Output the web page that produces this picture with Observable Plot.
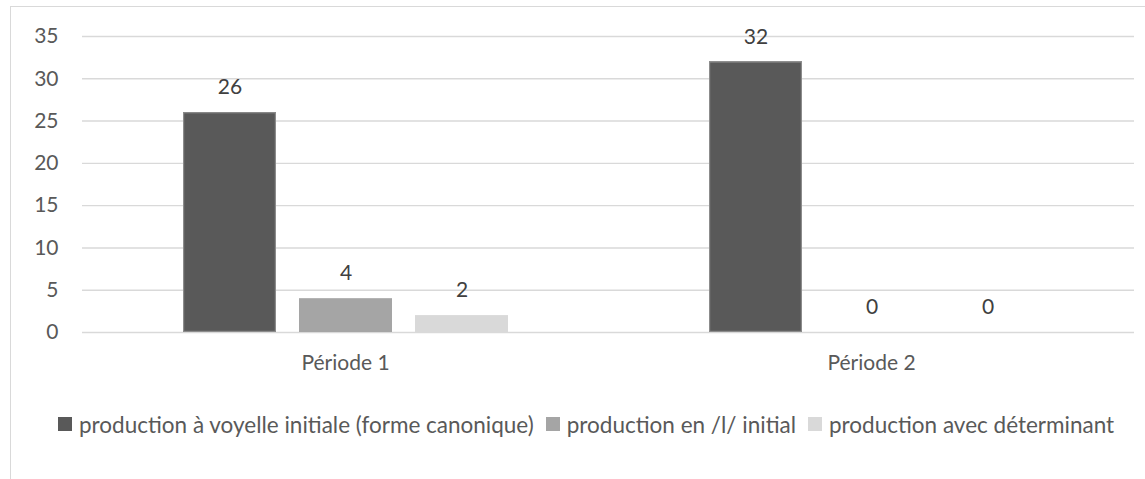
<!DOCTYPE html>
<html>
<head>
<meta charset="utf-8">
<script src="https://cdn.jsdelivr.net/npm/d3@7"></script>
<script src="https://cdn.jsdelivr.net/npm/@observablehq/plot@0.6"></script>
<style>
  html, body { margin: 0; padding: 0; background: #ffffff; overflow: hidden; }
  body { width: 1145px; height: 479px; position: relative; font-family: Lato, "Open Sans", sans-serif; }
  #frame { position: absolute; left: 10px; top: 6px; width: 1150px; height: 500px; border: 1.5px solid #d9d9d9; box-sizing: border-box; }
  #chart { position: absolute; left: 0; top: 0; }
  #legend { position: absolute; left: 58px; top: 410px; height: 28px; display: flex; align-items: center; font-size: 22.5px; color: #595959; white-space: nowrap; }
  .item { display: flex; align-items: center; margin-right: 12px; }
  .sw { width: 14px; height: 14px; margin-right: 7px; display: inline-block; }
</style>
</head>
<body>
<div id="frame"></div>
<div id="chart"></div>
<div id="legend"></div>
<script>
const periods = ["Période 1", "Période 2"];
const series = [
  "production à voyelle initiale (forme canonique)",
  "production en /l/ initial",
  "production avec déterminant"
];
const valuesPeriode1 = [26, 4, 2];
const valuesPeriode2 = [32, 0, 0];
const yTicks = [0, 5, 10, 15, 20, 25, 30, 35];
const colors = ["#595959", "#a5a5a5", "#d9d9d9"];

const valuesByPeriod = [valuesPeriode1, valuesPeriode2];
const data = periods.flatMap((p, i) =>
  series.map((s, j) => ({period: p, series: s, value: valuesByPeriod[i][j]}))
);

const chart = Plot.plot({
  width: 1145,
  height: 380,
  marginLeft: 82,
  marginRight: 11,
  marginTop: 36,
  marginBottom: 48,
  style: {fontFamily: "Lato, 'Open Sans', sans-serif", fontSize: "21px", color: "#595959", background: "transparent"},
  fx: {domain: periods, padding: 0, label: null, axis: "bottom", tickSize: 0, tickPadding: 23},
  x: {domain: series, paddingInner: 0.2, paddingOuter: 0.85, axis: null},
  y: {domain: [0, 35], ticks: yTicks, tickSize: 0, tickPadding: 24, label: null},
  color: {domain: series, range: colors},
  marks: [
    Plot.ruleY(yTicks, {stroke: "#d9d9d9", strokeWidth: 1.4}),
    Plot.barY(data, {fx: "period", x: "series", y: "value", fill: "series"}),
    Plot.barY(data.filter(d => d.series === series[0]), {fx: "period", x: "series", y: "value", fill: "none", stroke: "#8c8c8c", strokeWidth: 1.2, inset: 0.6}),
    Plot.text(data, {fx: "period", x: "series", y: "value", text: d => String(d.value), dy: -25, fill: "#404040", fontSize: 21})
  ]
});
document.getElementById("chart").appendChild(chart);

const legend = document.getElementById("legend");
series.forEach((s, i) => {
  const item = document.createElement("div");
  item.className = "item";
  const sw = document.createElement("span");
  sw.className = "sw";
  sw.style.background = colors[i];
  const label = document.createElement("span");
  label.textContent = s;
  item.appendChild(sw);
  item.appendChild(label);
  legend.appendChild(item);
});
</script>
</body>
</html>
